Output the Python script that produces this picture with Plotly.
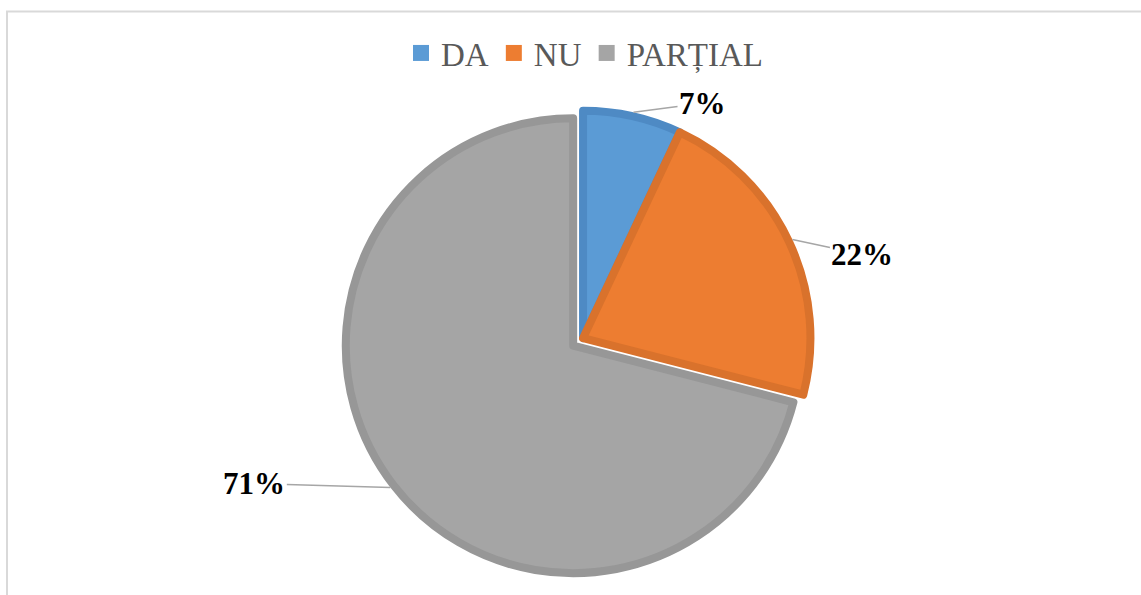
import math
import plotly.graph_objects as go

labels = ["DA", "NU", "PARȚIAL"]
values = [7, 22, 71]
fill_colors = ["#5B9BD5", "#ED7D31", "#A5A5A5"]
line_colors = ["#4E8AC4", "#D9722C", "#979797"]
pulls = [0, 0, 0.055]
# label offsets (px) from slice edge point to label centre
label_dx = [69, 70, -136]
label_dy = [-9, 15, -4]

W, H = 1141, 595
dom_x = [0.2, 0.822]
dom_y = [0.0286, 0.835]
LW = 8

fig = go.Figure()
fig.add_trace(go.Pie(
    labels=labels,
    values=values,
    sort=False,
    direction="clockwise",
    rotation=0,
    pull=pulls,
    marker=dict(colors=fill_colors, line=dict(color=line_colors, width=LW)),
    textinfo="none",
    domain=dict(x=dom_x, y=dom_y),
    showlegend=False,
    hoverinfo="label+percent",
))

# legend entries with solid square keys
for lab, col in zip(labels, fill_colors):
    fig.add_trace(go.Scatter(
        x=[None], y=[None], mode="markers", name=lab,
        marker=dict(symbol="square", size=16, color=col),
        showlegend=True,
    ))

# pie geometry (pixels) to place labels with leader lines
cx = (dom_x[0] + dom_x[1]) / 2 * W
cy = (1 - (dom_y[0] + dom_y[1]) / 2) * H
r = min((dom_x[1] - dom_x[0]) * W, (dom_y[1] - dom_y[0]) * H) / 2 / (1 + max(pulls))
total = sum(values)
annotations = []
cum = 0
for v, p, dx, dy in zip(values, pulls, label_dx, label_dy):
    a = (cum + v / 2) / total * 2 * math.pi
    cum += v
    sx, sy = math.sin(a), -math.cos(a)
    ox, oy = cx + p * r * sx, cy + p * r * sy
    ex, ey = ox + (r + LW / 2) * sx, oy + (r + LW / 2) * sy
    annotations.append(dict(
        x=ex / W, y=1 - ey / H, xref="paper", yref="paper",
        ax=dx, ay=dy, axref="pixel", ayref="pixel",
        text="<b>%d%%</b>" % round(v / total * 100),
        showarrow=True, arrowhead=0, arrowwidth=1.5, arrowcolor="#A6A6A6",
        standoff=0, startstandoff=0,
        font=dict(family="Liberation Serif", size=31, color="#000000"),
    ))

fig.update_layout(
    width=W, height=H,
    margin=dict(l=0, r=0, t=0, b=0),
    paper_bgcolor="white",
    plot_bgcolor="white",
    xaxis=dict(visible=False),
    yaxis=dict(visible=False),
    font=dict(family="Liberation Serif", color="#595959"),
    legend=dict(
        orientation="h", x=0.5 + 14 / W, xanchor="center", y=1 - 53 / H, yanchor="middle",
        font=dict(family="Liberation Serif", size=33, color="#595959"),
        itemwidth=30, tracegroupgap=0,
    ),
    annotations=annotations,
    shapes=[dict(
        type="rect", xref="paper", yref="paper",
        x0=7 / W, x1=1.02, y0=-0.02, y1=1 - 11.5 / H,
        line=dict(color="#D9D9D9", width=2), fillcolor="rgba(0,0,0,0)", layer="below",
    )],
)

fig.write_html("out.html", config={"displayModeBar": False},
               post_script="document.body.style.margin='0px';")
